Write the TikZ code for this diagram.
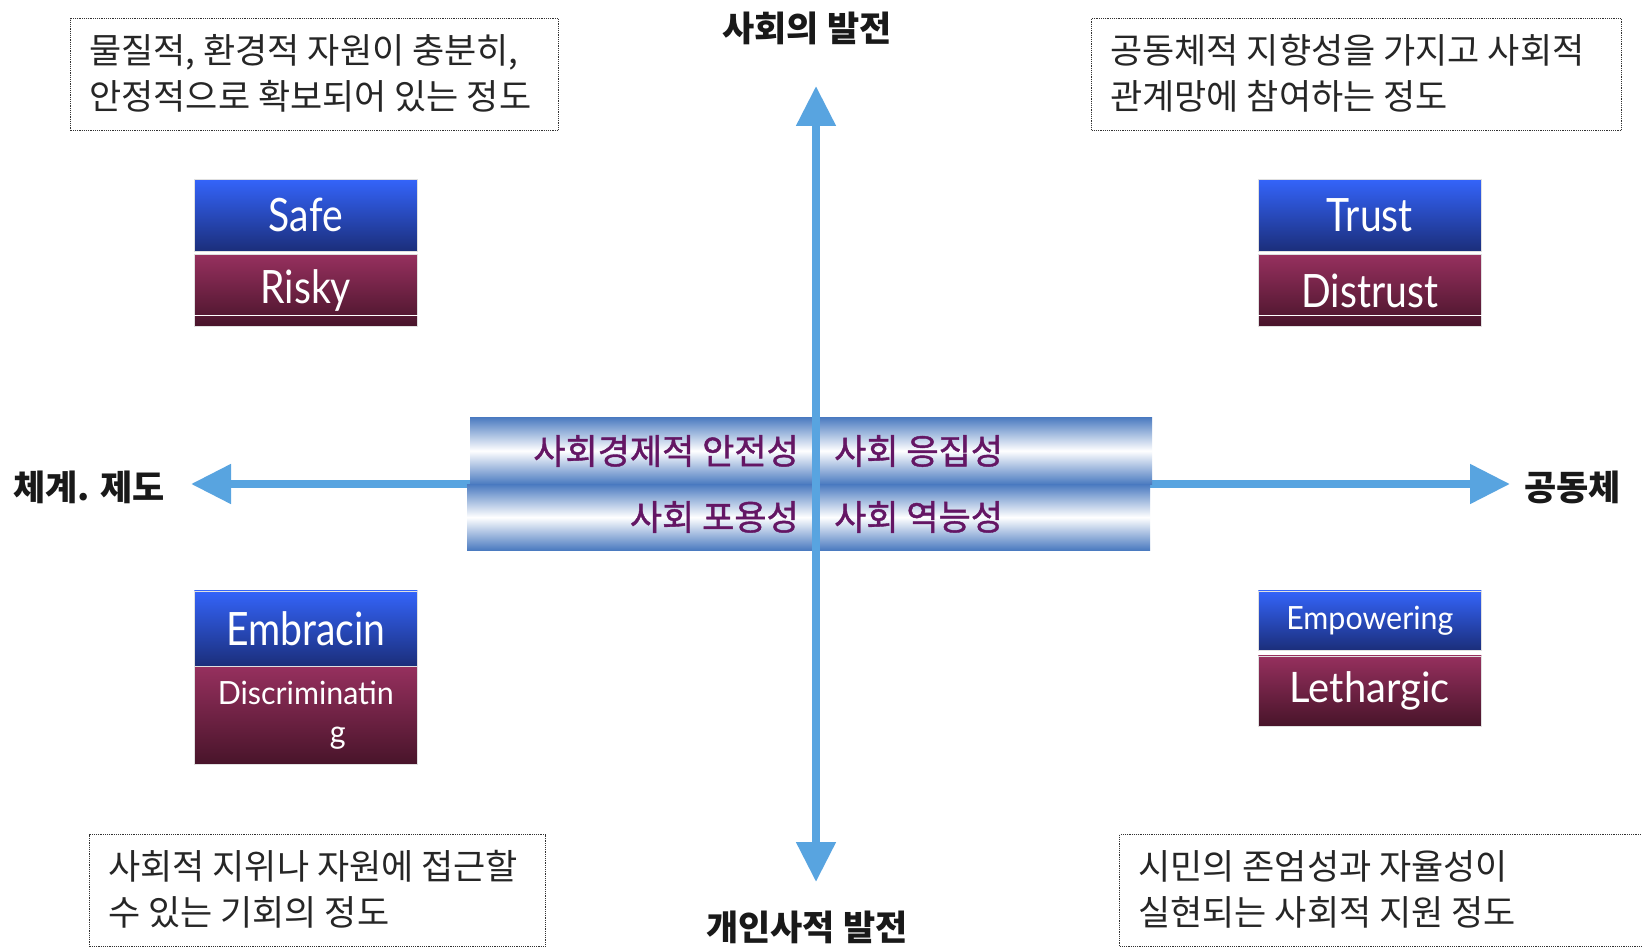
\documentclass[tikz,border=0pt]{standalone}
\usepackage{fontspec}
\setmainfont{Noto Sans CJK KR}
\newfontfamily\krsemi[FakeBold=1.2]{Noto Sans CJK KR}
\newfontfamily\lat{Lato}
\usetikzlibrary{arrows.meta}
\definecolor{axisblue}{RGB}{88,164,224}
\definecolor{bandblue}{RGB}{74,122,192}
\definecolor{bandtxt}{RGB}{100,22,100}
\definecolor{btop}{RGB}{52,100,250}
\definecolor{bbot}{RGB}{27,46,122}
\definecolor{mtop}{RGB}{150,48,94}
\definecolor{mbot}{RGB}{72,20,42}
\newcommand\sqz[2]{\scalebox{#1}[1]{#2}}
\begin{document}
\begin{tikzpicture}[x=1pt,y=-1pt,
  dbox/.style={draw=black!80, line width=1.1pt, dash pattern=on 1.2pt off 1pt, inner sep=0, anchor=north west},
  dtext/.style={font=\fontsize{35}{46}\selectfont, align=left, anchor=west, inner sep=0, text=black!85},
  axislab/.style={font=\fontsize{35}{40}\selectfont\bfseries, inner sep=0, text=black!90},
  axisline/.style={draw=axisblue, line width=8pt, -{Triangle[length=40pt,width=38pt]}},
  bandbox/.style={top color=bandblue, bottom color=bandblue, middle color=white, inner sep=0, anchor=north west, draw=none},
  bandlab/.style={font=\krsemi\fontsize{35}{40}\selectfont, text=bandtxt, inner sep=0},
  cbox/.style={draw=black!12, line width=0.6pt, inner sep=0, text=white, anchor=north west, minimum width=223pt, align=center},
  bluebox/.style={cbox, top color=btop, bottom color=bbot},
  maroonbox/.style={cbox, top color=mtop, bottom color=mbot}
]
\useasboundingbox (0,0) rectangle (1642,949);
\clip (0,0) rectangle (1642,949);
\fill[white] (0,0) rectangle (1642,949);

% dotted description boxes
\node[dbox, minimum width=488pt, minimum height=112pt] (tlbox) at (70,18) {};
\node[dtext] (tltext) at (89,73) {물질적, 환경적 자원이 충분히,\\안정적으로 확보되어 있는 정도};
\node[dbox, minimum width=530pt, minimum height=112pt] (trbox) at (1091,18) {};
\node[dtext] (trtext) at (1110,73) {공동체적 지향성을 가지고 사회적\\관계망에 참여하는 정도};
\node[dbox, minimum width=456pt, minimum height=112pt] (blbox) at (89,834) {};
\node[dtext] (bltext) at (108,889) {사회적 지위나 자원에 접근할\\수 있는 기회의 정도};
\node[dbox, minimum width=560pt, minimum height=112pt] (brbox) at (1119,834) {};
\node[dtext] (brtext) at (1138,889) {시민의 존엄성과 자율성이\\실현되는 사회적 지원 정도};

% axis labels
\node[axislab] (up) at (807,28) {사회의 발전};
\node[axislab] (down) at (807,927) {개인사적 발전};
\node[axislab, anchor=west] (left) at (13,487) {체계. 제도};
\node[axislab, anchor=west] (right) at (1524,487) {공동체};

% axes
\coordinate (O) at (816,484);
\coordinate (ttip) at (816,86);
\coordinate (btip) at (816,882);
\coordinate (ltip) at (191,484);
\coordinate (rtip) at (1510,484);
\draw[axisline] (O) -- (ltip);
\draw[axisline] (O) -- (rtip);

% central band
\node[bandbox, minimum width=682pt, minimum height=67pt] (bandtop) at (470,417) {};
\node[bandbox, minimum width=683pt, minimum height=66pt] (bandbot) at (467,484) {};

\draw[axisline] (O) -- (ttip);
\draw[axisline] (O) -- (btip);

\node[bandlab, anchor=east] (sec) at (799,451) {사회경제적 안전성};
\node[bandlab, anchor=west] (coh) at (834,451) {사회 응집성};
\node[bandlab, anchor=east] (inc) at (799,517) {사회 포용성};
\node[bandlab, anchor=west] (emp) at (834,517) {사회 역능성};

% quadrant boxes
\node[bluebox, minimum height=72pt, font=\lat\fontsize{46}{50}\selectfont] (safe) at (194,179) {\sqz{.85}{Safe}};
\node[maroonbox, minimum height=72pt, font=\lat\fontsize{46}{50}\selectfont] (risky) at (194,254.5) {\sqz{.85}{Risky}};
\draw[white, line width=1.6pt] ([yshift=11.5pt]risky.south west) -- ([yshift=11.5pt]risky.south east);

\node[bluebox, minimum height=72pt, font=\lat\fontsize{46}{50}\selectfont] (trust) at (1258,179) {\sqz{.85}{Trust}};
\node[maroonbox, minimum height=72pt, font=\lat\fontsize{46}{50}\selectfont] (distrust) at (1258,254.5) {\sqz{.85}{Distrust}};
\draw[white, line width=1.6pt] ([yshift=11.5pt]distrust.south west) -- ([yshift=11.5pt]distrust.south east);

\node[bluebox, minimum height=75.5pt, font=\lat\fontsize{46}{50}\selectfont] (embr) at (194,590.5) {\sqz{.85}{Embracin}};
\node[maroonbox, minimum height=98pt, font=\lat\fontsize{32}{39}\selectfont] (disc) at (194,666) {\sqz{.95}{Discriminatin}\\\hspace*{64pt}\sqz{.95}{g}};

\node[bluebox, minimum height=59.5pt, font=\lat\fontsize{32}{36}\selectfont] (empw) at (1258,590.5) {\sqz{.95}{Empowering}};
\node[maroonbox, minimum height=70pt, font=\lat\fontsize{42}{46}\selectfont] (leth) at (1258,655.5) {\sqz{.95}{Lethargic}};
\end{tikzpicture}
\end{document}
